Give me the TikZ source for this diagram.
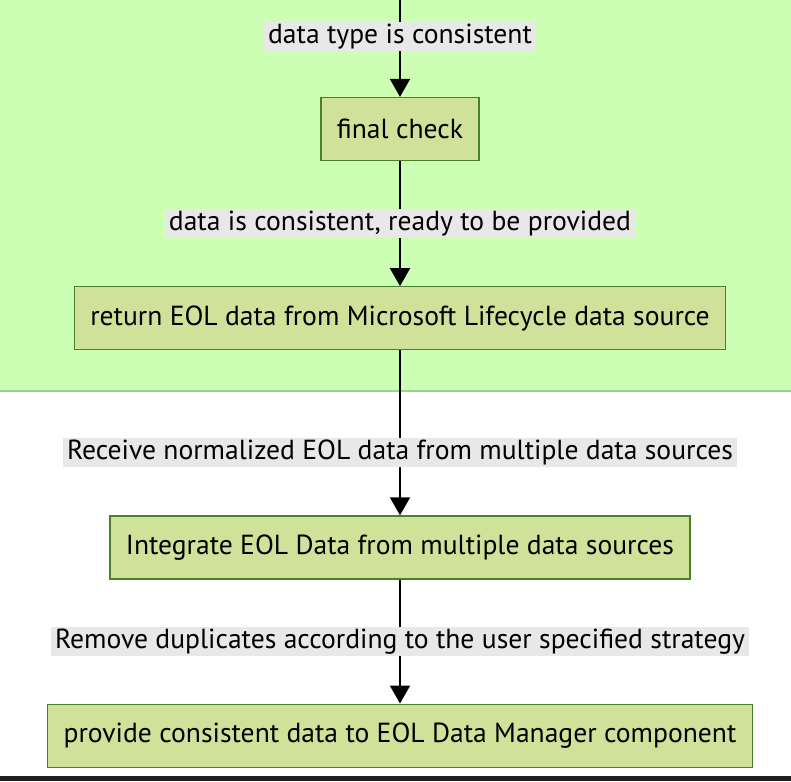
\documentclass[tikz,border=0pt]{standalone}
\usepackage{fontspec}
\setmainfont{PT Sans}
\usetikzlibrary{arrows.meta,positioning}

\definecolor{groupfill}{HTML}{CCFFB4}
\definecolor{groupline}{HTML}{9CD38A}
\definecolor{boxfill}{HTML}{D0E29A}
\definecolor{boxline}{HTML}{4A7F2C}
\definecolor{labelfill}{HTML}{E8E8E8}
\definecolor{barline}{HTML}{1F1F1F}

\begin{document}
\begin{tikzpicture}[x=1pt, y=-1pt,
		block/.style={draw=boxline, line width=1.2pt, fill=boxfill, minimum height=63pt, inner xsep=16pt, font=\fontsize{27.6}{32}\selectfont},
		edgelabel/.style={fill=labelfill, inner xsep=4pt, inner ysep=2pt, font=\fontsize{27.6}{32}\selectfont},
		flow/.style={-{Triangle[length=18pt, width=20pt]}, line width=2pt},
	]
		\useasboundingbox (0,0) rectangle (791,781);
		\fill[groupfill] (0,0) rectangle (791,391);
		\draw[groupline, line width=1.5pt] (0,391) -- (791,391);
		\fill[barline] (0,776) rectangle (791,781);
		
		\coordinate (in) at (400,0);
		\node (check) [block] at (400,129) {final check};
		\node (msdata) [block, below=125pt of check] {return EOL data from Microsoft Lifecycle data source};
		\node (merge) [block, below=165pt of msdata] {Integrate EOL Data from multiple data sources};
		\node (provide) [block, below=124pt of merge] {provide consistent data to EOL Data Manager component};
		
		\draw[flow] (in) -- node[edgelabel, pos=0.38] {data type is consistent} (check);
		\draw[flow] (check) -- node[edgelabel] {data is consistent, ready to be provided} (msdata);
		\draw[flow] (msdata) -- node[edgelabel, pos=0.62] {Receive normalized EOL data from multiple data sources} (merge);
		\draw[flow] (merge) -- node[edgelabel] {Remove duplicates according to the user specified strategy} (provide);
	\end{tikzpicture}
\end{document}
